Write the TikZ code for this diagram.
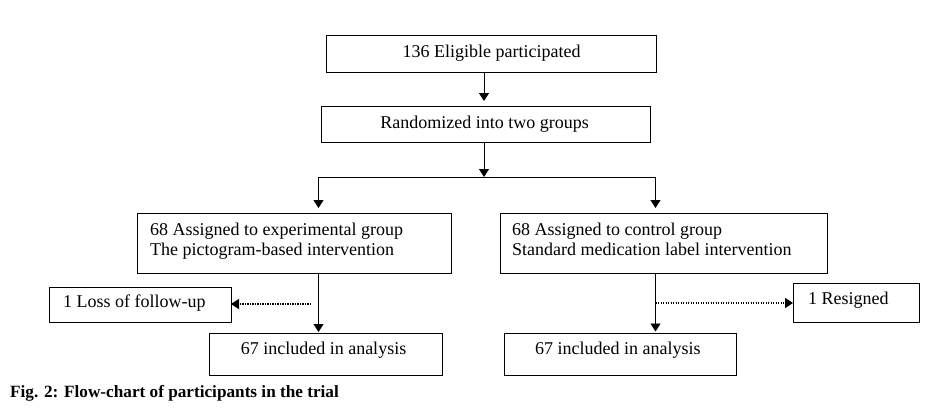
\documentclass[tikz,border=0pt]{standalone}
\usepackage{fontspec}
\setmainfont{Liberation Serif}
\usetikzlibrary{arrows.meta}
\begin{document}
\begin{tikzpicture}[x=1pt,y=-1pt,
  box/.style={draw, line width=0.9pt, inner sep=0pt, outer sep=0pt},
  txt/.style={inner sep=0pt, font=\fontsize{18}{19}\selectfont},
  arr/.style={line width=0.9pt, -{Triangle[length=8pt,width=10pt]}},
  dotarr/.style={line width=1.5pt, dash pattern=on 1.2pt off 1.3pt, -{Triangle[length=8pt,width=10pt]}}]
\useasboundingbox (0,0) rectangle (941,413);
% boxes
\node[box, minimum width=330, minimum height=37] (b1) at (491,53.5) {};
\node[box, minimum width=329, minimum height=36] (b2) at (485.5,124) {};
\node[box, minimum width=314, minimum height=60] (b3) at (294,243) {};
\node[box, minimum width=327, minimum height=60] (b6) at (663.5,243) {};
\node[box, minimum width=182, minimum height=35] (b4) at (140,304.5) {};
\node[box, minimum width=126, minimum height=39] (b7) at (856,302.5) {};
\node[box, minimum width=233, minimum height=42] (b5) at (325.5,354) {};
\node[box, minimum width=232, minimum height=42] (b8) at (620,354) {};
% texts
\node[txt, anchor=base] (t1) at (491.5,57) {136 Eligible participated};
\node[txt, anchor=base] (t2) at (484.5,128) {Randomized into two groups};
\node[txt, anchor=base west] (t3a) at (150,235.7) {68 Assigned to experimental group};
\node[txt, anchor=base west] (t3b) at (150,255) {The pictogram-based intervention};
\node[txt, anchor=base west] (t6a) at (512,235.7) {68 Assigned to control group};
\node[txt, anchor=base west] (t6b) at (512,255) {Standard medication label intervention};
\node[txt, anchor=base west] (t4) at (63,307.7) {1 Loss of follow-up};
\node[txt, anchor=base west] (t7) at (808,304.3) {1 Resigned};
\node[txt, anchor=base] (t5) at (323.5,354.3) {67 included in analysis};
\node[txt, anchor=base] (t8) at (617.8,354.3) {67 included in analysis};
\node[inner sep=0pt, anchor=base west, font=\fontsize{17.2}{19}\selectfont\bfseries] (cap) at (10,397) {Fig. 2: Flow-chart of participants in the trial};
% connectors
\coordinate (m) at (484,177);
\coordinate (Lc) at (318.5,177);
\coordinate (Rc) at (655.5,177);
\coordinate (dl) at (311,304);
\coordinate (dr) at (655.5,303);
\draw[arr, shorten >=5pt] (b1.south -| m) -- (b2.north -| m);
\draw[arr] (b2.south -| m) -- (m);
\draw[line width=0.9pt] (Lc) -- (Rc);
\draw[arr, shorten >=5pt] (Lc) -- (b3.north -| Lc);
\draw[arr, shorten >=5pt] (Rc) -- (b6.north -| Rc);
\draw[arr, shorten >=1pt] (b3.south -| Lc) -- (b5.north -| Lc);
\draw[arr, shorten >=1.5pt] (b6.south -| Rc) -- (b8.north -| Rc);
\draw[dotarr] (dl) -- (dl -| b4.east);
\draw[dotarr] (dr) -- (dr -| b7.west);
\end{tikzpicture}
\end{document}
